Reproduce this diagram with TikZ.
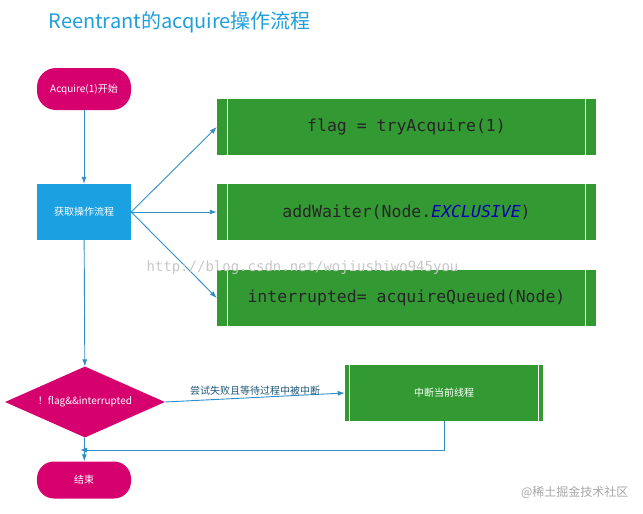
\documentclass[tikz,border=0pt]{standalone}
\usepackage{fontspec}
\setmainfont{Noto Sans CJK SC}
\setmonofont{DejaVu Sans Mono}
\newfontfamily\cjk{Noto Sans CJK SC}
\usetikzlibrary{shapes.geometric,arrows.meta}
\definecolor{mag}{HTML}{D6006F}
\definecolor{bl}{HTML}{1BA1E2}
\definecolor{gr}{HTML}{339933}
\definecolor{ar}{HTML}{2E8FC4}
\definecolor{ttl}{HTML}{1E9FDB}
\tikzset{
 pill/.style={fill=mag,rounded corners=19pt,minimum width=94pt,text=white,font=\fontsize{10}{11}\selectfont},
 gbox/.style={fill=gr,minimum width=379pt,minimum height=56pt,font=\fontsize{16.5}{18}\ttfamily,text=black!85},
 conn/.style={draw=ar,line width=0.9pt,-{Latex[length=7pt,width=5pt]}},
}
\begin{document}
\begin{tikzpicture}[x=1pt,y=-1pt]
\useasboundingbox (0,0) rectangle (643,514);
\node[anchor=west,text=ttl,font=\fontsize{20}{22}\selectfont] (title) at (45,22) {Reentrant的acquire操作流程};
\node[pill,minimum height=42pt] (start) at (84,89) {Acquire(1)开始};
\node[fill=bl,minimum width=94pt,minimum height=56pt,text=white,font=\fontsize{10}{11}\selectfont] (get) at (84,212) {获取操作流程};
\node[gbox] (g1) at (406.5,127) {flag = tryAcquire(1)};
\node[gbox] (g2) at (406.5,212) {addWaiter(Node.\textcolor{blue!70!black}{\itshape EXCLUSIVE})};
\node[gbox] (g3) at (406.5,298) {interrupted= acquireQueued(Node)};
\foreach \g in {g1,g2,g3}{
 \draw[white,line width=0.8pt] ([xshift=11pt]\g.north west) -- ([xshift=11pt]\g.south west);
 \draw[white,line width=0.8pt] ([xshift=-11pt]\g.north east) -- ([xshift=-11pt]\g.south east);
}
\node[diamond,fill=mag,minimum width=160pt,minimum height=71pt,inner sep=0pt,aspect=2.25,text=white,font=\fontsize{10}{11}\selectfont] (dec) at (85,402) {！flag\&\&interrupted};
\node[fill=gr,minimum width=198pt,minimum height=56pt,text=white,font=\fontsize{10}{11}\selectfont] (intr) at (444,393) {中断当前线程};
\draw[white,line width=0.8pt] ([xshift=5pt]intr.north west) -- ([xshift=5pt]intr.south west);
\draw[white,line width=0.8pt] ([xshift=-5pt]intr.north east) -- ([xshift=-5pt]intr.south east);
\node[pill,minimum height=37pt,rounded corners=17pt] (end) at (84,480) {结束};
\coordinate (join) at (80,450);
\draw[conn] (start) -- (get);
\draw[conn] (get) -- (dec);
\draw[conn] (get.east) -- (g1.west);
\draw[conn] (get.east) -- (g2.west);
\draw[conn] (get.east) -- (g3.west);
\draw[conn] (dec.east) -- node[above,pos=0.5,text=ar!60!black,font=\fontsize{10}{11}\selectfont,yshift=-2pt]{尝试失败且等待过程中被中断} (intr.west);
\draw[conn] (intr.south) -- (444,450) -- (join);
\draw[conn] (dec) -- (end);
\node[anchor=west,text=black!22,font=\fontsize{14}{15}\ttfamily] (wm) at (143,268) {http://blog.csdn.net/wojiushiwo945you};
\node[anchor=east,text=black!35,font=\fontsize{12}{13}\selectfont] (wm2) at (632,492) {@稀土掘金技术社区};
\end{tikzpicture}
\end{document}
